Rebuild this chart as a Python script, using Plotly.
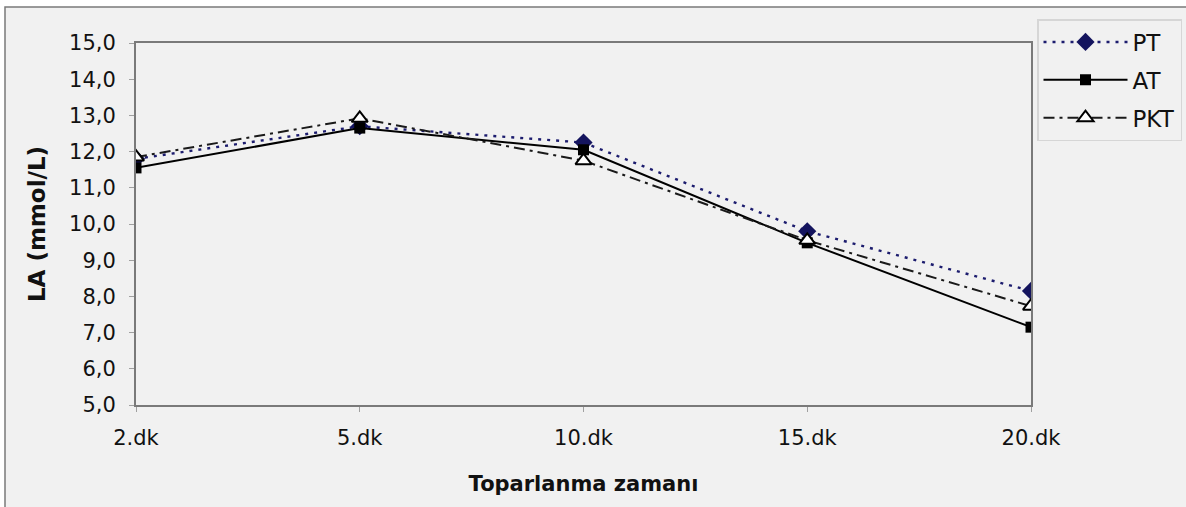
import plotly.graph_objects as go

categories = ["2.dk", "5.dk", "10.dk", "15.dk", "20.dk"]
pt_values = [11.8, 12.7, 12.25, 9.8, 8.15]
at_values = [11.55, 12.65, 12.05, 9.48, 7.15]
pkt_values = [11.85, 12.92, 11.75, 9.55, 7.73]
y_ticks = [5, 6, 7, 8, 9, 10, 11, 12, 13, 14, 15]
y_tick_labels = ["5,0", "6,0", "7,0", "8,0", "9,0", "10,0", "11,0", "12,0", "13,0", "14,0", "15,0"]

W, H = 1186, 507
L, R, T, B = 136, 1031, 43, 405
FONT = "DejaVu Sans, Liberation Sans, Arial, sans-serif"

fig = go.Figure()
fig.add_trace(go.Scatter(
    x=categories, y=pt_values, name="PT", mode="lines+markers", legendgroup="a",
    line=dict(color="#1c1c6e", width=2.4, dash="3px,6px"),
    marker=dict(symbol="diamond", size=14, color="#14145e"),
))
fig.add_trace(go.Scatter(
    x=categories, y=at_values, name="AT", mode="lines+markers", legendgroup="b",
    line=dict(color="#000000", width=2),
    marker=dict(symbol="square", size=11, color="#000000"),
))
fig.add_trace(go.Scatter(
    x=categories, y=pkt_values, name="PKT", mode="lines+markers", legendgroup="c",
    line=dict(color="#1a1a1a", width=2, dash="11px,5px,3px,5px"),
    marker=dict(symbol="triangle-up", size=14, color="#ffffff",
                line=dict(width=2, color="#000000")),
))

def px_x(p):
    return (p - L) / (R - L)

def px_y(p):
    return (B - p) / (B - T)

# outer chart frame
fig.add_shape(type="rect", xref="paper", yref="paper",
              x0=px_x(5), x1=px_x(1195), y0=px_y(515), y1=px_y(7),
              fillcolor="#f1f1f1", line=dict(color="#7a7a7a", width=1.5),
              layer="below")

fig.update_layout(
    width=W, height=H,
    margin=dict(l=L, r=W - R, t=T, b=H - B, autoexpand=False),
    paper_bgcolor="white", plot_bgcolor="#f1f1f1",
    font=dict(family=FONT, color="#111111", size=21),
    showlegend=True,
    legend=dict(
        x=px_x(1037), y=px_y(19), xanchor="left", yanchor="top",
        bgcolor="#f1f1f1", bordercolor="#d6d6d6", borderwidth=1.5,
        font=dict(size=23, color="#111111"),
        tracegroupgap=5, traceorder="grouped", itemwidth=84,
    ),
    xaxis=dict(
        type="category", range=[0, 4],
        showline=True, linecolor="#7a7a7a", linewidth=2, mirror=True,
        showgrid=False, zeroline=False,
        ticks="outside", ticklen=5, tickcolor="#a0a0a0",
        tickfont=dict(size=21), ticklabelstandoff=8,
        title=dict(text="<b>Toparlanma zamanı</b>", font=dict(size=21), standoff=27),
    ),
    yaxis=dict(
        range=[5, 15], tickvals=y_ticks, ticktext=y_tick_labels,
        showline=True, linecolor="#7a7a7a", linewidth=2, mirror=True,
        showgrid=False, zeroline=False,
        ticks="outside", ticklen=5, tickcolor="#a0a0a0",
        tickfont=dict(size=21), ticklabelstandoff=9,
        title=dict(text="<b>LA (mmol/L)</b>", font=dict(size=23), standoff=17),
    ),
)

fig.write_html("out.html", config={"displayModeBar": False},
               post_script="document.body.style.margin='0';")
